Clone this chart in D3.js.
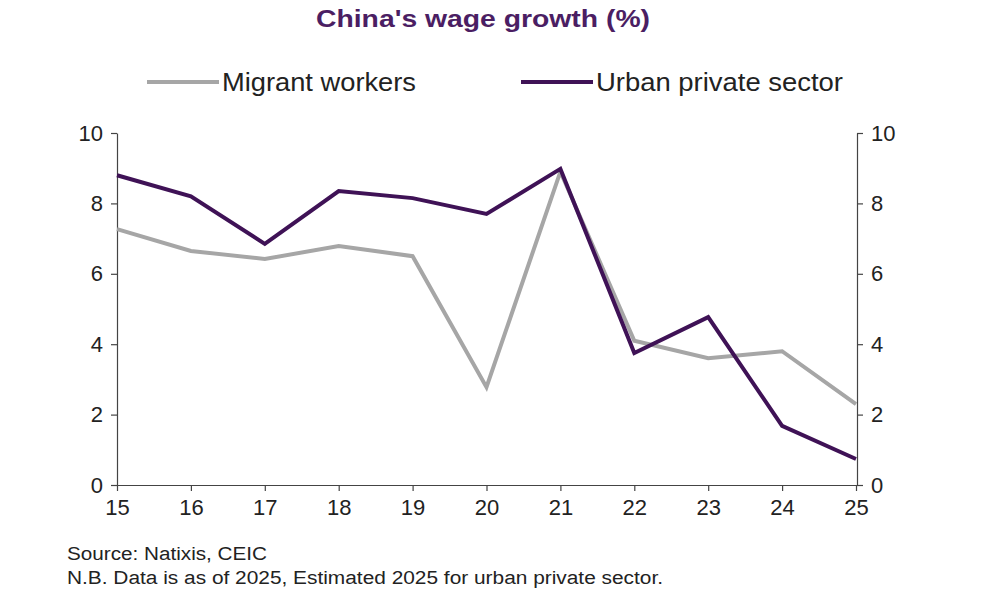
<!DOCTYPE html>
<html><head><meta charset="utf-8">
<script src="https://cdn.jsdelivr.net/npm/d3@7"></script>
<style>body{margin:0;background:#fff;font-family:"Liberation Sans",Arial,sans-serif}</style>
</head><body>
<svg id="chart" width="982" height="603"></svg>
<script>
var years = ['15','16','17','18','19','20','21','22','23','24','25'];
var migrant = [7.27,6.65,6.42,6.79,6.5,2.78,8.9,4.1,3.6,3.8,2.3];
var urban = [8.8,8.2,6.85,8.35,8.15,7.7,8.98,3.75,4.77,1.68,0.74];
var yTicks = [0,2,4,6,8,10];

var svg = d3.select('#chart');
var x = d3.scalePoint().domain(years).range([117,856]);
var y = d3.scaleLinear().domain([0,10]).range([485,133]);

svg.append('text').attr('x',483).attr('y',27).attr('text-anchor','middle')
  .attr('font-size',24).attr('font-weight','bold').attr('fill','#4b1e63')
  .attr('textLength',334).attr('lengthAdjust','spacingAndGlyphs')
  .text("China's wage growth (%)");

// legend
var leg = [{n:'Migrant workers',c:'#a6a6a6',x:147,w:194},{n:'Urban private sector',c:'#3f1256',x:521,w:247}];
leg.forEach(function(d){
  svg.append('line').attr('x1',d.x).attr('x2',d.x+72).attr('y1',82).attr('y2',82)
    .attr('stroke',d.c).attr('stroke-width',4);
  svg.append('text').attr('x',d.x+75).attr('y',91).attr('font-size',25).attr('fill','#222')
    .attr('textLength',d.w).attr('lengthAdjust','spacingAndGlyphs').text(d.n);
});

function styleAxis(g){
  g.selectAll('path,line').attr('stroke','#444').attr('stroke-width',1.2);
  g.selectAll('text').attr('font-size',22).attr('fill','#222').attr('font-family','"Liberation Sans",Arial,sans-serif');
}
svg.append('g').attr('transform','translate(117,0)')
  .call(d3.axisLeft(y).tickValues(yTicks).tickSize(6).tickSizeOuter(0).tickPadding(8)).call(styleAxis);
svg.append('g').attr('transform','translate(857,0)')
  .call(d3.axisRight(y).tickValues(yTicks).tickSize(6).tickSizeOuter(0).tickPadding(8)).call(styleAxis);
svg.append('g').attr('transform','translate(0,485)')
  .call(d3.axisBottom(x).tickSize(6).tickSizeOuter(0).tickPadding(8)).call(styleAxis);

var line = d3.line().x(function(d,i){return x(years[i]);}).y(function(d){return y(d);});
svg.append('path').datum(migrant).attr('d',line).attr('fill','none').attr('stroke','#a6a6a6').attr('stroke-width',4);
svg.append('path').datum(urban).attr('d',line).attr('fill','none').attr('stroke','#3f1256').attr('stroke-width',4);

svg.append('text').attr('x',67).attr('y',560).attr('font-size',18).attr('fill','#222')
  .attr('textLength',200).attr('lengthAdjust','spacingAndGlyphs').text('Source: Natixis, CEIC');
svg.append('text').attr('x',67).attr('y',584).attr('font-size',18).attr('fill','#222')
  .attr('textLength',596).attr('lengthAdjust','spacingAndGlyphs')
  .text('N.B. Data is as of 2025, Estimated 2025 for urban private sector.');
</script>
</body></html>
